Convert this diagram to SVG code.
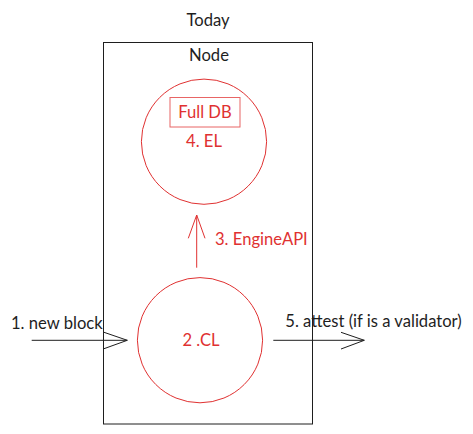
<svg xmlns="http://www.w3.org/2000/svg" width="473" height="434" viewBox="0 0 473 434">
<defs>
<style>
text{font-family:Lato,"Noto Sans",sans-serif;font-size:16.6px}
.k{fill:#1e1e1e}
.r{fill:#e03131}
.ks{stroke:#1e1e1e;stroke-width:1;fill:none}
.rs{stroke:#e03131;stroke-width:1;fill:none}
</style>
</defs>
<rect width="473" height="434" fill="#ffffff"/>
<text class="k" x="208" y="26" text-anchor="middle">Today</text>
<g id="node">
<rect class="ks" x="103.5" y="42.5" width="209" height="381.5"/>
<text class="k" x="209" y="61" text-anchor="middle">Node</text>
</g>
<g id="el">
<circle class="rs" cx="204" cy="141.7" r="62.6"/>
<rect class="rs" x="170" y="97.5" width="70" height="29.5" stroke-opacity="0.75"/>
<text class="r" x="205" y="117.5" text-anchor="middle">Full DB</text>
<text class="r" x="204" y="147" text-anchor="middle">4. EL</text>
</g>
<g id="cl">
<circle class="rs" cx="200" cy="340.2" r="62.6"/>
<text class="r" x="201" y="346" text-anchor="middle">2 .CL</text>
</g>
<g id="connectors">
<path class="rs" d="M196.7 267.7V215M188.3 238.3L196.7 215L205 238.3"/>
<text class="r" x="215" y="245">3. EngineAPI</text>
<path class="ks" d="M31.7 340.3H127.3M104 332.3L127.3 340.3L104 348.7"/>
<text class="k" x="11" y="328.7">1. new block</text>
<path class="ks" d="M273.3 340.3H364.3M341 332.3L364.3 340.3L341 349"/>
<text class="k" x="285.3" y="327.3">5. attest (if is a validator)</text>
</g>
</svg>
